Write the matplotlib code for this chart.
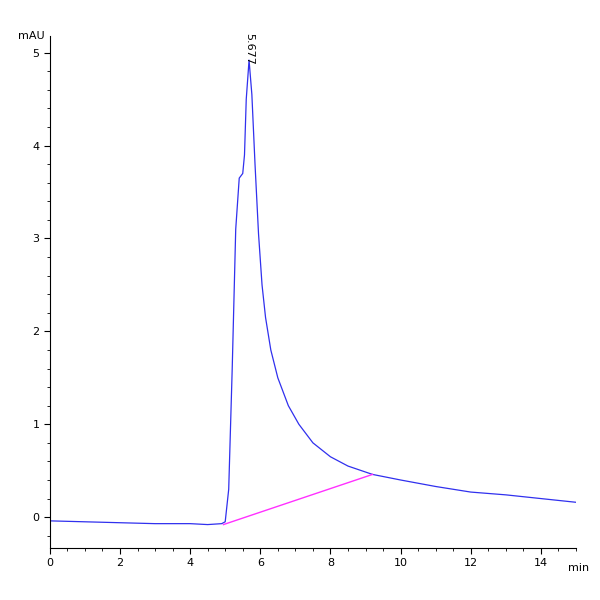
import numpy as np
import matplotlib.pyplot as plt
from matplotlib.ticker import MultipleLocator

# chromatogram trace (min, mAU)
t = [0, 1, 2, 3, 4, 4.5, 4.9, 5.0, 5.1, 5.2, 5.3, 5.4, 5.5, 5.55, 5.6, 5.68,
     5.76, 5.85, 5.95, 6.05, 6.15, 6.3, 6.5, 6.8, 7.1, 7.5, 8.0, 8.5, 9.2, 10, 11, 12, 13, 14, 15]
mau = [-0.04, -0.05, -0.06, -0.07, -0.07, -0.08, -0.07, -0.05, 0.3, 1.6, 3.1, 3.65, 3.7, 3.9, 4.5, 4.92,
       4.55, 3.8, 3.05, 2.5, 2.15, 1.8, 1.5, 1.2, 1.0, 0.8, 0.65, 0.55, 0.46, 0.4, 0.33, 0.27, 0.24, 0.2, 0.16]
base_t = [4.95, 9.2]
base_y = [-0.08, 0.46]
peak_t, peak_y, peak_lbl = 5.68, 4.92, "5.677"

fig, ax = plt.subplots(figsize=(6, 6), dpi=100)
fig.subplots_adjust(left=0.083, right=0.96, bottom=0.087, top=0.94)
ax.plot(t, mau, color='#3030ee', lw=0.9)
ax.plot(base_t, base_y, color='#ff30ff', lw=1)
ax.text(peak_t, peak_y - 0.05, peak_lbl, rotation=-90, ha='center', va='bottom', fontsize=8)

ax.set_xlim(0, 15)
ax.set_ylim(-0.33, 5.18)
ax.xaxis.set_major_locator(MultipleLocator(2))
ax.xaxis.set_minor_locator(MultipleLocator(0.5))
ax.yaxis.set_major_locator(MultipleLocator(1))
ax.yaxis.set_minor_locator(MultipleLocator(0.2))
ax.set_xticks([0, 2, 4, 6, 8, 10, 12, 14])
for s in ('top', 'right'):
    ax.spines[s].set_visible(False)
ax.tick_params(labelsize=8, length=4)
ax.tick_params(which='minor', length=2)
ax.text(0.985, -0.03, 'min', transform=ax.transAxes, fontsize=8, va='top', ha='left')
ax.text(-0.01, 1.0, 'mAU', transform=ax.transAxes, fontsize=8, va='center', ha='right')
fig.savefig('out.png')
